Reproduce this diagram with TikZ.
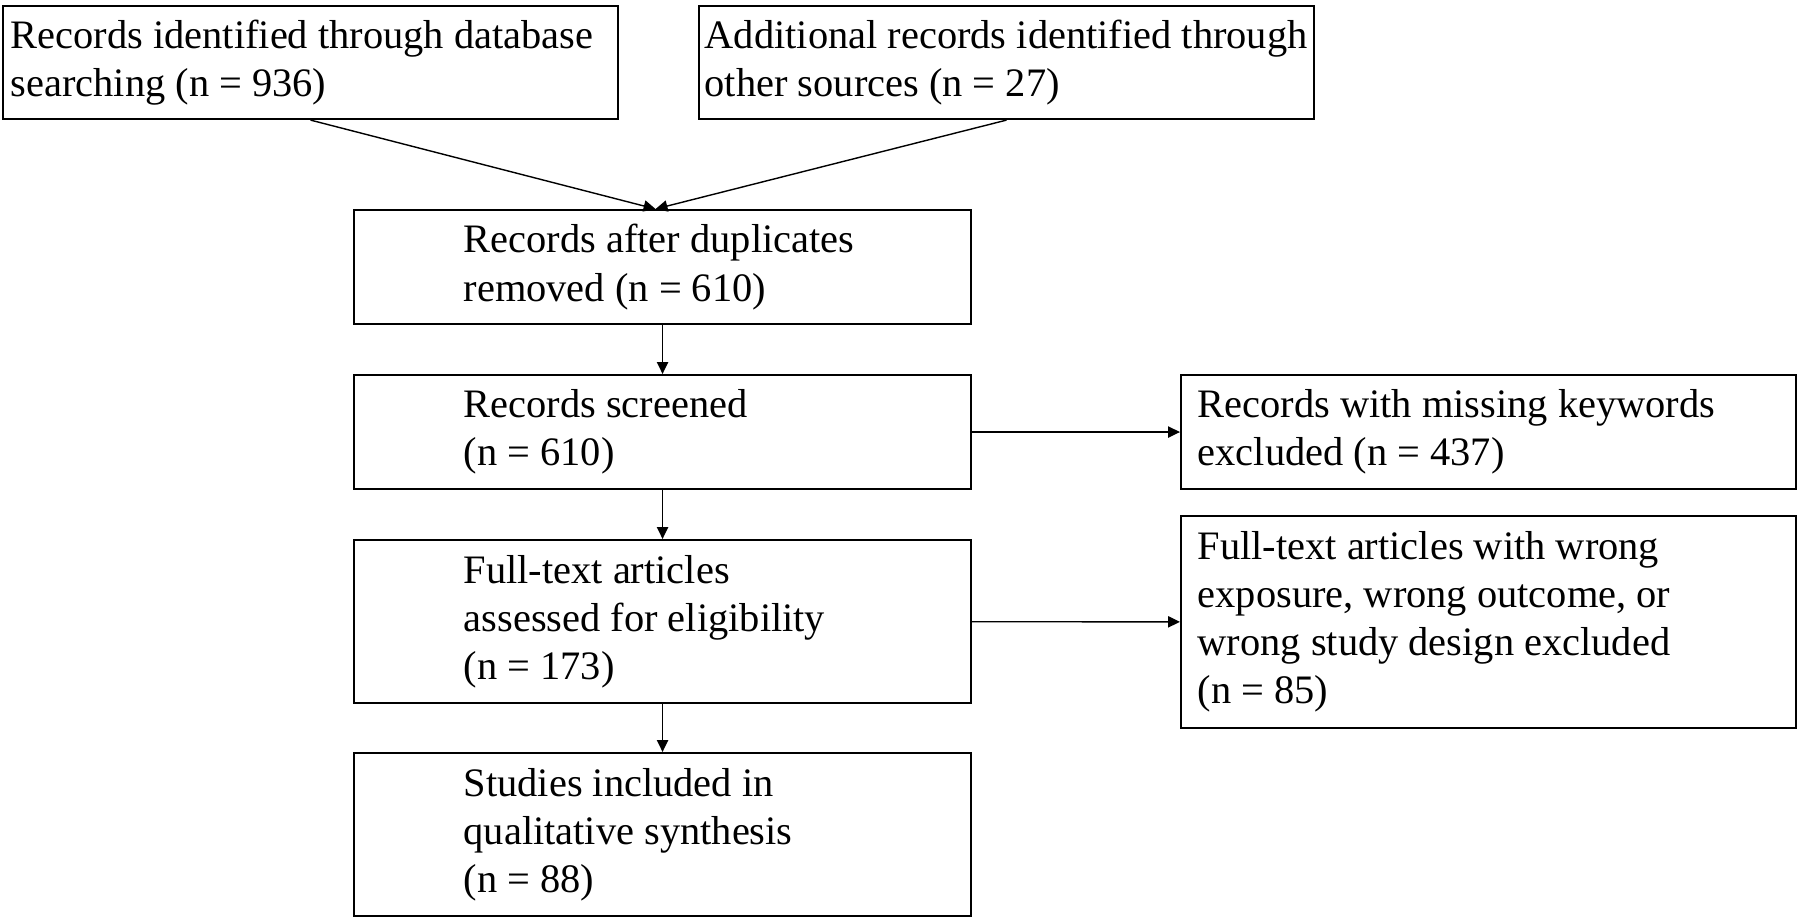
\documentclass[tikz,border=0pt]{standalone}
\usepackage{fontspec}
\setmainfont{Liberation Serif}
\usetikzlibrary{positioning,arrows.meta}

\tikzset{
  box/.style={draw, line width=0.6pt, rectangle, anchor=north west, inner sep=0pt},
  txt/.style={anchor=west, align=left, inner sep=0pt, font=\fontsize{11.5}{13.7}\selectfont},
  arr/.style={line width=0.4pt, -{Triangle[length=3.4pt,width=3.2pt]}}
}

\begin{document}
\begin{tikzpicture}
    \useasboundingbox (0,0) rectangle (18,-9.22);

    % Identification
    \node[box, minimum width=6.15cm, minimum height=1.13cm] (db) at (0.02,-0.05) {};
    \node[box, minimum width=6.15cm, minimum height=1.13cm] (other) at (6.98,-0.05) {};
    \node[txt, right=0.08cm of db.west] (dbT) {Records identified through database\\searching (n = 936)};
    \node[txt, right=0.06cm of other.west] (otherT) {Additional records identified through\\other sources (n = 27)};

    % Screening - left column
    \node[box, minimum width=6.17cm, minimum height=1.14cm] (dup) at (3.53,-2.09) {};
    \node[box, minimum width=6.17cm, minimum height=1.14cm] (scr) at (3.53,-3.74) {};
    \node[box, minimum width=6.17cm, minimum height=1.63cm] (full) at (3.53,-5.39) {};
    \node[box, minimum width=6.17cm, minimum height=1.63cm] (incl) at (3.53,-7.52) {};
    \node[txt, right=1.10cm of dup.west] (dupT) {Records after duplicates\\removed (n = 610)};
    \node[txt, right=1.10cm of scr.west] (scrT) {Records screened\\(n = 610)};
    \node[txt, right=1.10cm of full.west] (fullT) {Full-text articles\\assessed for eligibility\\(n = 173)};
    \node[txt, right=1.10cm of incl.west] (inclT) {Studies included in\\qualitative synthesis\\(n = 88)};

    % Exclusions - right column
    \node[box, minimum width=6.15cm, minimum height=1.14cm] (kw) at (11.80,-3.74) {};
    \node[box, minimum width=6.15cm, minimum height=2.12cm] (wrong) at (11.80,-5.15) {};
    \node[txt, right=0.17cm of kw.west] (kwT) {Records with missing keywords\\excluded (n = 437)};
    \node[txt, right=0.17cm of wrong.west] (wrongT) {Full-text articles with wrong\\exposure, wrong outcome, or\\wrong study design excluded\\(n = 85)};

    % Arrows
    \coordinate (merge) at ([xshift=-0.07cm]dup.north);
    \draw[arr] (db.south) -- (merge);
    \draw[arr] (other.south) -- (merge);
    \foreach \a/\b in {dup/scr, scr/full, full/incl, scr/kw, full/wrong} {
        \draw[arr] (\a) -- (\b);
    }
\end{tikzpicture}
\end{document}
